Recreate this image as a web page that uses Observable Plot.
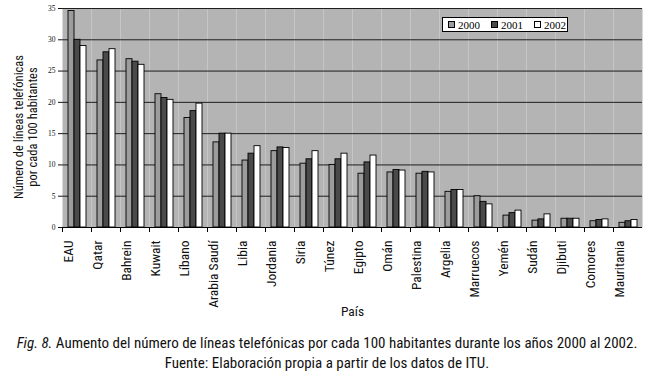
<!DOCTYPE html>
<html><head><meta charset="utf-8">
<script src="https://cdn.jsdelivr.net/npm/d3@7"></script>
<script src="https://cdn.jsdelivr.net/npm/@observablehq/plot@0.6"></script>
<style>
body{margin:0;background:#fff;font-family:Roboto,"Liberation Sans",sans-serif;font-stretch:75%;}
#wrap{position:relative;width:654px;height:381px;}
#ytitle{position:absolute;left:-74px;top:113px;width:200px;height:28px;line-height:13.5px;font-size:12.5px;text-align:center;transform:rotate(-90deg);transform-origin:center;color:#111;}
#legend{position:absolute;left:442px;top:17px;width:124px;height:13px;border:1px solid #000;background:#fff;display:flex;align-items:center;font-family:"Liberation Serif",serif;font-stretch:normal;font-size:11px;color:#000;}
#legend .it{display:flex;align-items:center;margin-left:11px;}
#legend .it:first-child{margin-left:5px;}
#legend .sw{width:5px;height:5px;border:1px solid #000;margin-right:3px;}
#caption{position:absolute;left:0;top:333px;width:654px;text-align:center;font-size:15px;line-height:20px;color:#111;}
</style></head><body>
<div id="wrap">
<div id="chart"></div>
<div id="ytitle">Número de líneas telefónicas<br>por cada 100 habitantes</div>
<div id="legend"></div>
<div id="caption"><i>Fig. 8.</i> Aumento del número de líneas telefónicas por cada 100 habitantes durante los años 2000 al 2002.<br>Fuente: Elaboración propia a partir de los datos de ITU.</div>
</div>
<script>
const countries = ["EAU","Qatar","Bahrein","Kuwait","Líbano","Arabia Saudí","Libia","Jordania","Siria","Túnez","Egipto","Omán","Palestina","Argelia","Marruecos","Yemén","Sudán","Djibuti","Comores","Mauritania"];
const years = ["2000","2001","2002"];
const v2000 = [34.6,26.7,26.9,21.3,17.5,13.6,10.7,12.2,10.2,10.0,8.6,8.8,8.6,5.7,5.0,1.9,1.1,1.4,1.0,0.75];
const v2001 = [30.0,28.0,26.5,20.7,18.6,15.0,11.8,12.8,10.9,10.9,10.4,9.2,8.9,6.0,4.1,2.3,1.3,1.4,1.2,1.0];
const v2002 = [29.0,28.5,26.0,20.4,19.8,15.0,13.0,12.7,12.2,11.8,11.5,9.1,8.8,6.0,3.7,2.7,2.1,1.4,1.3,1.2];
const yTicks = [0,5,10,15,20,25,30,35];
const colors = ["#9c9c9c","#4a4a4a","#ffffff"];

const series = [v2000, v2001, v2002];
const data = [];
countries.forEach((c, i) => years.forEach((y, k) => data.push({country: c, year: y, value: series[k][i]})));

const chart = Plot.plot({
  width: 654, height: 330,
  marginLeft: 56, marginRight: 6, marginTop: 8, marginBottom: 103,
  style: {fontFamily: 'Roboto,"Liberation Sans",sans-serif', fontStretch: "75%", color: "#111", background: "#fff"},
  fx: {domain: countries, padding: 0},
  x: {domain: years, paddingInner: 0, paddingOuter: 0.72, axis: null},
  y: {domain: [0, 35], axis: null},
  color: {domain: years, range: colors},
  marks: [
    Plot.frame({fill: "#b4b4b4", stroke: null}),
    Plot.gridY(yTicks, {stroke: "#1e1e1e", strokeOpacity: 1, strokeWidth: 1}),
    Plot.barY(data, {fx: "country", x: "year", y: "value", fill: "year", stroke: "#000", strokeWidth: 0.9}),
    Plot.ruleY([0], {stroke: "#000"}),
    Plot.frame({anchor: "left", insetTop: 219, insetBottom: -4, stroke: "#000"}),
    Plot.axisY(yTicks, {tickSize: 4, tickPadding: 3, fontSize: 7.5, fontFamily: '"Liberation Serif",serif', fontStretch: "normal", line: true, label: null}),
    Plot.axisFx({anchor: "bottom", tickRotate: -90, tickSize: 0, tickPadding: 13, fontSize: 13.5, dx: -8, label: "País", labelAnchor: "center", labelOffset: 88})
  ]
});
document.getElementById("chart").appendChild(chart);

const lg = document.getElementById("legend");
years.forEach((y, k) => {
  const it = document.createElement("div"); it.className = "it";
  const sw = document.createElement("div"); sw.className = "sw"; sw.style.background = colors[k];
  const tx = document.createElement("span"); tx.textContent = y;
  it.appendChild(sw); it.appendChild(tx); lg.appendChild(it);
});
</script>
</body></html>
